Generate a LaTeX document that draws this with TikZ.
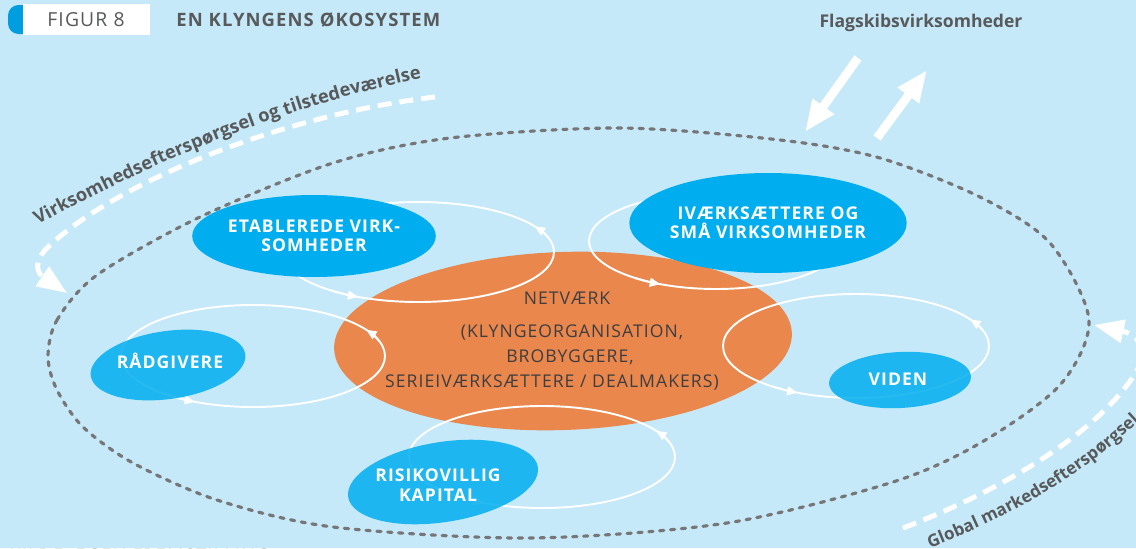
\documentclass[tikz,border=0pt]{standalone}
\usepackage{fontspec}
\setmainfont{Open Sans}
\newfontfamily\spaced[LetterSpace=6]{Open Sans}
\usetikzlibrary{arrows.meta,decorations.text,calc,shapes.geometric}
\definecolor{bgblue}{RGB}{197,233,248}
\definecolor{orangeell}{RGB}{233,135,76}
\definecolor{darkblue}{RGB}{0,174,239}
\definecolor{tabblue}{RGB}{0,158,224}
\definecolor{txtgray}{RGB}{88,89,91}
\definecolor{txtdark}{RGB}{62,62,66}
\definecolor{dotgray}{RGB}{118,118,120}
\newcommand\curvefont{\fontsize{10.4pt}{12pt}\selectfont\bfseries}
\newcommand\curvefontb{\fontsize{9.7pt}{12pt}\selectfont\bfseries}
\newcommand\ecoloop[4]{%
  \draw[loopline] (#1,#2) ellipse[x radius=#3,y radius=#4];
  \foreach \a in {-31,116}{%
    \pgfmathsetmacro\b{\a+14}%
    \draw[loopline,-{Triangle[length=6pt,width=5pt]}] (#1,#2) ++(\b:#3 and #4) arc[start angle=\b,end angle=\a,x radius=#3,y radius=#4];
  }%
}
\begin{document}
\begin{tikzpicture}[x=0.02cm,y=-0.02cm,
  loopline/.style={draw=white, line width=1.1pt},
  dotline/.style={draw=dotgray, line width=1.8pt, line cap=round, dash pattern=on 2.4pt off 3.8pt},
  dashline/.style={draw=white, line width=2.8pt, dash pattern=on 8pt off 4.5pt},
  bigtip/.style={-{Triangle[length=17pt,width=13pt]}},
  blockarrow/.style={draw=white, line width=5pt, -{Triangle[length=18pt,width=14pt]}},
  blueell/.style={ellipse, fill=darkblue, inner sep=0, text=white, align=center, font=\spaced\bfseries\fontsize{10pt}{11pt}\selectfont},
  bluetxt/.style={text=white, inner sep=0, align=center, font=\spaced\bfseries\fontsize{10pt}{11pt}\selectfont},
  orangetxt/.style={text=txtdark, inner sep=0, font=\spaced\fontsize{10pt}{12pt}\selectfont},
  graylabel/.style={text=txtgray, inner sep=0, font=\bfseries\fontsize{10pt}{11pt}\selectfont}
]
\useasboundingbox (0,0) rectangle (1136,548);
\clip (0,0) rectangle (1136,548);
\fill[bgblue] (0,0) rectangle (1136,548);

% header
\fill[tabblue, rounded corners=6] (8,5) rectangle (34,34);
\fill[white] (23,4) rectangle (150,35);
\node[text=txtgray, inner sep=0, font=\spaced\fontsize{11pt}{12pt}\selectfont] (fig) at (86,19.5) {FIGUR 8};
\node[text=txtgray, inner sep=0, anchor=west, font=\spaced\bfseries\fontsize{10.5pt}{12pt}\selectfont] (title) at (176,19.5) {EN KLYNGENS ØKOSYSTEM};

% dotted outer ellipse
\draw[dotline] plot[smooth cycle] coordinates {(48,357) (57,320) (97,275) (200,217) (333,163) (450,138) (620,128) (780,140) (880,158) (980,197) (1050,243) (1089,320) (1060,385) (982,442) (893,482) (727,523) (530,538) (333,527) (217,500) (133,463) (83,427) (57,390)};

% dashed arcs
\coordinate (dl1) at (435,97);
\coordinate (dl2) at (45,250);
\coordinate (dl3) at (67,293);
\draw[dashline, bigtip] (dl1) .. controls (280,115) and (110,185) .. (dl2) .. controls (35,262) and (36,272) .. (dl3);
\coordinate (dr1) at (903,528);
\coordinate (dr2) at (1133,377);
\coordinate (dr3) at (1094,325);
\draw[dashline, bigtip] (dr1) .. controls (990,495) and (1090,440) .. (dr2) .. controls (1150,352) and (1140,335) .. (dr3);

% curved texts
\path[decorate, decoration={text along path, text={|\curvefont\color{txtgray}|Virksomhedsefterspørgsel og tilstedeværelse}}] (38,225) .. controls (120,180) and (270,105) .. (445,74);
\path[decorate, decoration={text along path, text={|\curvefontb\color{txtgray}|Global markedsefterspørgsel}}] (930,548) .. controls (1005,518) and (1090,478) .. (1175,385);

% flagship
\node[graylabel] (flag) at (921,23) {Flagskibsvirksomheder};
\coordinate (fa1) at (858,58);
\coordinate (fa2) at (805,132);
\coordinate (fb1) at (877,138);
\coordinate (fb2) at (927,70);
\draw[blockarrow] (fa1) -- (fa2);
\draw[blockarrow] (fb1) -- (fb2);

% central ellipse
\fill[orangeell, rotate around={2:(563,341)}] (563,341) ellipse[x radius=229,y radius=89];
\node[orangetxt] (net1) at (567,298) {NETVÆRK};
\node[orangetxt] (net2) at (572,333) {(KLYNGEORGANISATION,};
\node[orangetxt] (net3) at (570,357) {BROBYGGERE,};
\node[orangetxt] (net4) at (552,383) {SERIEIVÆRKSÆTTERE / DEALMAKERS)};

% loops
\ecoloop{418}{252}{136}{50}
\ecoloop{716}{241}{127}{48}
\ecoloop{253}{356}{132}{51}
\ecoloop{856}{346}{133}{52}
\ecoloop{542}{457}{133}{51}

% blue ellipses
\node[blueell, minimum width=3.96cm, minimum height=1.64cm] (etab) at (314,236) {ETABLEREDE VIRK-\\SOMHEDER};
\node[blueell, minimum width=4.64cm, minimum height=2.0cm] (ivaerk) at (768,223) {IVÆRKSÆTTERE OG\\SMÅ VIRKSOMHEDER};
\fill[darkblue, opacity=.85, rotate around={8:(168,365)}] (168,365) ellipse[x radius=78,y radius=34];
\node[bluetxt] (raad) at (170,361) {RÅDGIVERE};
\fill[darkblue, opacity=.85, rotate around={3:(900,380)}] (900,380) ellipse[x radius=71,y radius=28];
\node[bluetxt] (viden) at (898,379) {VIDEN};
\fill[darkblue, opacity=.85, rotate around={9:(443,482)}] (443,482) ellipse[x radius=96,y radius=40];
\node[bluetxt] (risiko) at (438,485) {RISIKOVILLIG\\KAPITAL};

% source line (cut by the lower edge)
\node[anchor=north west, inner sep=0, text=txtgray, font=\spaced\fontsize{10.5pt}{12pt}\selectfont] (src) at (9,548.5) {KILDE: EGEN FREMSTILLING};
\end{tikzpicture}
\end{document}
